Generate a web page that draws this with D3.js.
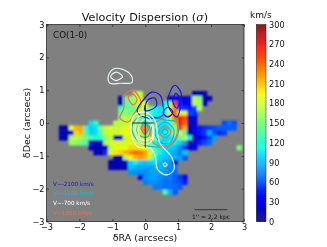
<!DOCTYPE html>
<html><head><meta charset="utf-8">
<script src="https://cdnjs.cloudflare.com/ajax/libs/d3/7.8.5/d3.min.js"></script>
<style>html,body{margin:0;padding:0;background:#fff}svg{display:block;font-family:"DejaVu Sans",sans-serif;filter:blur(0.25px)}</style>
</head><body><svg id="c" width="327" height="247"></svg>
<script>
const _ = null;
const titleMain = "Velocity Dispersion (";
const titleSym = "σ";
const titleEnd = ")";
const xTicks = [-3,-2,-1,0,1,2,3];
const yTicks = [-3,-2,-1,0,1,2,3];
const barTicks = [0,30,60,90,120,150,180,210,240,270,300];
const legendLabels = ["V~-2100 km/s","V~-1100 km/s","V~-700 km/s","V~1350 km/s"];
const legendColors = ["#1414f0","#00c0f0","#ffffff","#ff6a3c"];
// sigma map (km/s): cell spacing in arcsec, first column RA, first row Dec
const cellStep = 0.15, raStart = -2.7, decStart = 1.2;
const sigmaRowIndex = [2,3,4,5,6,7,8,9,10,11,12,13,14,15,16,17,18,19,20,21,22];
const sigmaColStart = [16,13,13,13,13,13,7,1,1,1,3,7,8,12,11,11,15,17,18,20,22];
const sigmaRows = [
 [165,175,_,_,_,_,_,_,_,_,_,_,15,12,18],
 [12,130,150,165,180,_,_,_,_,_,20,30,30,25,30,170,150,12,15],
 [12,130,150,165,180,185,_,_,_,110,150,255,50,30,35,175,165,15],
 [130,140,140,155,175,175,140,110,105,115,190,235,60,50,45,60,170],
 [145,155,150,155,170,165,130,110,105,110,195,240,190,195,60,50],
 [155,170,175,165,150,130,115,110,105,110,180,235,265,250,15,25],
 [105,120,_,_,_,175,170,175,180,165,150,145,140,120,110,105,130,215,265,240,12,20,_,_,_,_,_,60,70,60],
 [15,12,190,215,220,120,100,105,150,175,185,175,180,190,195,175,200,235,170,125,105,100,110,160,255,220,12,30,45,50,55,60,65,65,65,65],
 [18,10,25,205,215,130,100,105,140,175,185,180,185,190,190,170,200,225,165,120,100,115,120,170,185,130,12,25,40,55,90,60,50,55],
 [15,12,170,175,165,145,130,115,120,160,175,20,20,180,185,185,175,180,185,160,115,100,105,115,150,170,110,12,25,40,60,85],
 [160,155,145,135,25,15,20,170,185,190,185,180,190,180,175,165,140,110,100,105,110,110,100,85,15,25,45,60,70],
 [15,12,15,20,170,190,185,190,205,205,200,190,170,130,110,100,100,95,80,40,15,25,_,_,_,_,_,_,_,_,150],
 [15,12,50,190,200,205,215,230,240,235,220,180,130,110,100,95,85,75,100],
 [15,12,170,195,215,225,215,170,120,100,95,90,90,85,60],
 [12,10,15,20,100,110,100,95,100,100,95,85,85,20],
 [15,10,12,15,95,90,85,85,85,90,90,85,80,75],
 [80,80,80,80,85,85,85,85,75,70],
 [30,80,85,85,80,75,75,65,55,35],
 [75,80,80,75,70,70,65,60,45],
 [75,75,70,70,70,65],
 [130,90,60]
];
// contour levels, [RA, Dec] in arcsec
const contoursPale = [
 [[-1.13,1.39],[-.98,1.64],[-.71,1.64],[-.43,1.45],[-.40,1.24],[-.77,1.21],[-1.07,1.21]],
 [[-1.05,1.42],[-.89,1.55],[-.69,1.42],[-.89,1.29]]
];
const contoursTomato = [
 [[-.62,.85],[-.40,1.0],[-.22,.85],[-.13,.55],[-.31,.33],[-.52,.03],[-.77,.15],[-.65,.45]],
 [[-.52,.79],[-.37,.88],[-.25,.70],[-.37,.55]],
 [[.20,-.12],[.23,-.58],[.54,-.73],[.84,-.58],[.99,-.15],[.90,.24],[.54,.15]],
 [[.42,-.27],[.60,-.09],[.78,-.27],[.60,-.45]],
 [[-.10,-.15],[-.01,-.06],[.08,-.15],[-.01,-.24]]
];
const contoursBlue = [
 [[-.01,.39],[.08,.70],[.29,.76],[.35,.55],[.14,.39]],
 [[-.25,.39],[-.01,.76],[.20,.94],[.45,.85],[.54,.55],[.54,.24],[.23,.15],[-.16,.24]],
 [[.69,.55],[.75,.94],[.90,1.15],[1.08,.94],[1.08,.55],[.96,.18]],
 [[.84,.64],[.93,.91],[1.05,.70],[.96,.45]],
 [[.54,.33],[.69,.48],[.84,.33],[.69,.18]]
];
const contoursCyan = [
 [[-.25,-.18],[-.07,.03],[.14,-.15],[.08,-.42],[-.16,-.39]],
 [[-.13,-.15],[-.01,0],[.11,-.15],[-.01,-.33]],
 [[-.40,-.21],[-.28,.12],[.14,.21],[.60,.09],[.96,.03],[.99,-.36],[.75,-.67],[.29,-.73],[-.16,-.61]],
 [[.51,-.27],[.60,-.18],[.69,-.27],[.60,-.36]],
 [[.29,-.27],[.60,.03],[.87,-.21],[.75,-.61],[.45,-.58]]
];
const contoursWhite = [
 [[-.43,-.06],[-.34,.24],[-.01,.33],[.29,.09],[.38,-.36],[.44,-.61],[.81,-1.06],[.87,-1.42],[.66,-1.58],[.38,-1.42],[.29,-.97],[.14,-.76],[-.22,-.73],[-.40,-.45]],
 [[-.31,-.15],[-.16,.21],[.14,.15],[.26,-.30],[.14,-.61],[-.16,-.61]],
 [[-.22,-.15],[-.01,.12],[.20,-.06],[.20,-.45],[-.10,-.52]],
 [[.55,-1.27],[.60,-1.21],[.66,-1.27],[.60,-1.33]]
];
const crossH = [[-.4,0],[.25,0]];
const crossV = [[0,.55],[0,-.75]];
const scaleBar = [[1.5,-2.64],[2.5,-2.64]];
const jetPos = [0,.11,.125,.34,.375,.64,.66,.89,.91,1];
const jetCol = ["#00007f","#0000ff","#0000ff","#00dbff","#14ffe2","#eeff08","#ffec00","#ff1300","#e80000","#7f0000"];

const svg = d3.select("#c");
const L=46.5,R=244,T=24.5,B=221.5;
const x = d3.scaleLinear().domain([-3,3]).range([L,R]);
const y = d3.scaleLinear().domain([-3,3]).range([B,T]);
const color = d3.scaleLinear().domain(jetPos.map(p=>p*300)).range(jetCol).clamp(true);
const defs = svg.append("defs");
defs.append("clipPath").attr("id","ax").append("rect").attr("x",L).attr("y",T).attr("width",R-L).attr("height",B-T);
defs.append("filter").attr("id","sm").attr("x","-5%").attr("y","-5%").attr("width","110%").attr("height","110%")
  .append("feGaussianBlur").attr("stdDeviation",1.1);
const plot = svg.append("g").attr("clip-path","url(#ax)");
plot.append("rect").attr("x",L).attr("y",T).attr("width",R-L).attr("height",B-T).attr("fill","#808080");
const cells=[];
sigmaRows.forEach((r,k)=>r.forEach((v,i)=>{ if(v!==null) cells.push({ra:raStart+cellStep*(sigmaColStart[k]+i),dec:decStart-cellStep*sigmaRowIndex[k],v}); }));
const gMap = plot.append("g").attr("filter","url(#sm)");
gMap.selectAll("rect.c").data(cells).join("rect").attr("class","c")
  .attr("x",d=>x(d.ra-cellStep/2)).attr("y",d=>y(d.dec+cellStep/2))
  .attr("width",x(cellStep)-x(0)+.3).attr("height",y(0)-y(cellStep)+.3).attr("fill",d=>color(d.v));
const loop = d3.line().x(d=>x(d[0])).y(d=>y(d[1])).curve(d3.curveCatmullRomClosed.alpha(.5));
const seg = d3.line().x(d=>x(d[0])).y(d=>y(d[1]));
[[contoursCyan,"#00b8f0"],[contoursTomato,"#ff6a3c"],[contoursBlue,"#1010f0"],[contoursWhite,"#ffffff"],[contoursPale,"#e4f6f2"]].forEach(([set,col])=>{
  plot.append("g").selectAll("path").data(set).join("path").attr("d",loop).attr("fill","none").attr("stroke",col).attr("stroke-width",1.15);
});
[crossH,crossV].forEach(s=>plot.append("path").attr("d",seg(s)).attr("stroke","#222").attr("stroke-width",1).attr("fill","none"));
plot.append("path").attr("d",seg(scaleBar)).attr("stroke","#222").attr("stroke-width",.8);
// axes
const styleAxis=g=>{g.selectAll(".domain").remove();g.selectAll("line").attr("stroke","#222").attr("stroke-width",.7);g.selectAll("text").attr("font-size",8.2).attr("fill","#111").attr("font-family","DejaVu Sans");};
const fmt=d=>d<0?"−"+(-d):""+d;
svg.append("g").attr("transform",`translate(0,${B})`).call(d3.axisBottom(x).tickValues(xTicks).tickFormat(fmt).tickSize(-2.5).tickPadding(2.5)).call(styleAxis);
svg.append("g").attr("transform",`translate(${L},0)`).call(d3.axisLeft(y).tickValues(yTicks).tickFormat(fmt).tickSize(-2.5).tickPadding(2)).call(styleAxis);
svg.append("g").attr("transform",`translate(0,${T})`).call(d3.axisTop(x).tickValues(xTicks).tickFormat("").tickSize(-2.5)).call(styleAxis);
svg.append("g").attr("transform",`translate(${R},0)`).call(d3.axisRight(y).tickValues(yTicks).tickFormat("").tickSize(-2.5)).call(styleAxis);
svg.append("rect").attr("x",L).attr("y",T).attr("width",R-L).attr("height",B-T).attr("fill","none").attr("stroke","#222").attr("stroke-width",.8);
const tt = svg.append("text").attr("x",145).attr("y",21).attr("text-anchor","middle").attr("font-size",11.2).attr("fill","#111");
tt.append("tspan").text(titleMain);
tt.append("tspan").attr("font-style","italic").attr("font-family","DejaVu Serif").text(titleSym);
tt.append("tspan").text(titleEnd);
svg.append("text").attr("x",145).attr("y",240.5).attr("text-anchor","middle").attr("font-size",9.5).attr("fill","#111").text("δRA (arcsecs)");
svg.append("text").attr("transform","translate(30,123) rotate(-90)").attr("text-anchor","middle").attr("font-size",9.5).attr("fill","#111").text("δDec (arcsecs)");
svg.append("text").attr("x",53).attr("y",37.5).attr("font-size",8.8).attr("fill","#111").text("CO(1-0)");
svg.selectAll("text.l").data(legendLabels).join("text").attr("class","l").attr("x",53).attr("y",(d,i)=>185.5+i*9.8).attr("font-size",5.7).attr("fill",(d,i)=>legendColors[i]).text(d=>d);
svg.append("text").attr("x",192).attr("y",218.5).attr("font-size",6).attr("fill","#111").text("1'' = 2.2 kpc");
// colourbar
const cx0=256.3,cw=9.7;
const bar = d3.scaleLinear().domain([0,300]).range([B,T]);
svg.append("g").selectAll("rect").data(d3.range(0,300,1.5)).join("rect").attr("x",cx0).attr("width",cw).attr("y",d=>bar(d+1.5)).attr("height",bar(0)-bar(1.5)+.3).attr("fill",d=>color(d+.75));
svg.append("rect").attr("x",cx0).attr("y",T).attr("width",cw).attr("height",B-T).attr("fill","none").attr("stroke","#222").attr("stroke-width",.5);
svg.append("g").attr("transform",`translate(${cx0+cw},0)`).call(d3.axisRight(bar).tickValues(barTicks).tickSize(0).tickPadding(3)).call(g=>{g.select(".domain").remove();g.selectAll("text").attr("font-size",8.2).attr("fill","#111").attr("font-family","DejaVu Sans");});
svg.append("text").attr("x",250).attr("y",17.5).attr("font-size",9).attr("fill","#111").text("km/s");
</script></body></html>
